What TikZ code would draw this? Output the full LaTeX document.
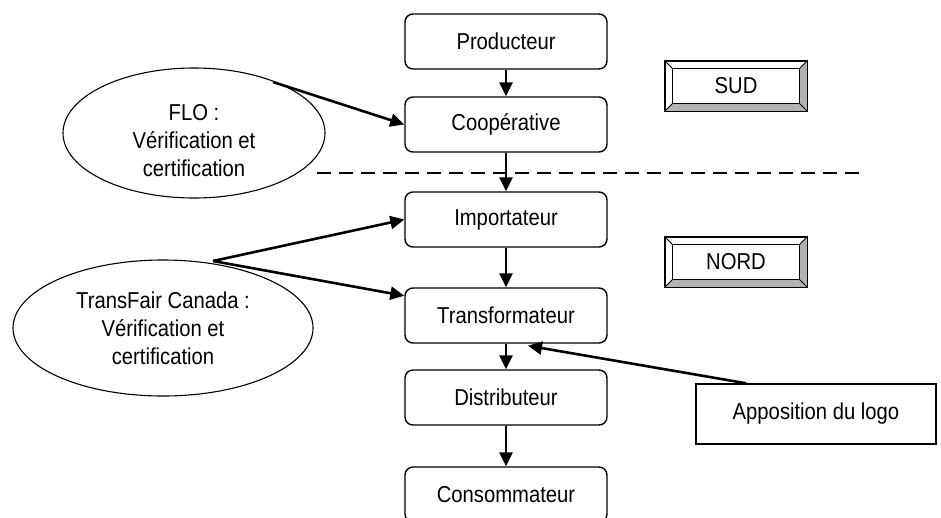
\documentclass[tikz,border=0pt]{standalone}
\usepackage{fontspec}
\setmainfont[FakeStretch=0.88]{Liberation Sans}
\usetikzlibrary{calc,arrows.meta,shapes.geometric}

\begin{document}
\begin{tikzpicture}[x=1pt, y=-1pt,
	stage/.style={rectangle, rounded corners=8pt, draw=black, line width=1.4pt, minimum height=55pt, minimum width=202pt, font=\fontsize{23}{27}\selectfont},
	agency/.style={ellipse, draw=black, line width=1.1pt, align=center, inner sep=0pt, font=\fontsize{23}{28}\selectfont},
	region/.style={rectangle, minimum width=142pt, minimum height=50pt, font=\fontsize{23}{27}\selectfont},
	label/.style={rectangle, draw=black, line width=1.4pt, minimum width=240pt, minimum height=60pt, font=\fontsize{23}{27}\selectfont},
	flow/.style={-{Triangle[length=14pt,width=13pt]}, line width=2.6pt},
	]
	\useasboundingbox (0,0) rectangle (941,517);

	\node[stage] at (506, 41.5) (prod) {Producteur};
	\node[stage] at (506, 124.5) (coop) {Coopérative};
	\node[stage] at (506, 219.5) (import) {Importateur};
	\node[stage] at (506, 315.5) (transf) {Transformateur};
	\node[stage] at (506, 397.5) (distrib) {Distributeur};
	\node[stage] at (506, 494.5) (consom) {Consommateur};

	\node[agency, minimum width=262pt, minimum height=130pt, text height=88pt] at (194, 133) (flo) {FLO :\\Vérification et\\certification};
	\node[agency, minimum width=300pt, minimum height=136pt] at (163, 328) (transfair) {TransFair Canada :\\Vérification et\\certification};

	\node[region] at (736, 86) (sud) {SUD};
	\node[region] at (736, 262) (nord) {NORD};
	\node[label] at (816, 414) (logo) {Apposition du logo};

	% bevelled frames
	\foreach \r in {sud, nord} {
		\fill[black!30] (\r.south west) -- (\r.south east) -- (\r.north east) -- ($(\r.north east)+(-8,8)$) -- ($(\r.south east)+(-8,-8)$) -- ($(\r.south west)+(8,-8)$) -- cycle;
		\draw[line width=1.4pt] (\r.north west) rectangle (\r.south east);
		\draw[line width=1pt] ($(\r.north west)+(8,8)$) rectangle ($(\r.south east)+(-8,-8)$);
		\draw[line width=1pt] (\r.north west) -- +(8,8) (\r.north east) -- +(-8,8) (\r.south west) -- +(8,-8) (\r.south east) -- +(-8,-8);
	}

	\coordinate (sepL) at (317, 173);
	\coordinate (sepR) at (862, 173);
	\draw[line width=2.4pt, dash pattern=on 14pt off 8pt] (sepL) -- (sepR);

	\draw[flow] (prod) to (coop);
	\draw[flow] (coop) to (import);
	\draw[flow] (import) to (transf);
	\draw[flow] (transf) to (distrib);
	\draw[flow] (distrib) to (consom);

	\coordinate (floout) at (273, 82);
	\coordinate (tfout) at (213, 261);
	\draw[flow] (floout) to (coop.west);
	\draw[flow] (tfout) to (import.west);
	\draw[flow] (tfout) to ($(transf.north west)!0.15!(transf.south west)$);
	\draw[flow] ($(logo.north west)+(51,0)$) to ($(transf.south)+(22,2)$);
\end{tikzpicture}
\end{document}
